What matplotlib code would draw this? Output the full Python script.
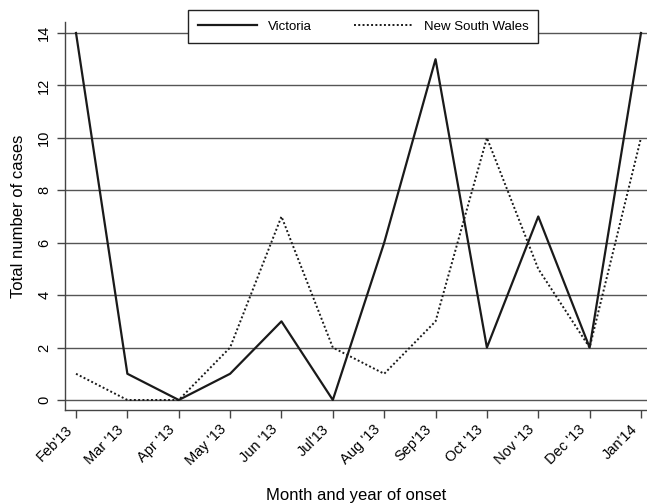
import matplotlib; matplotlib.use('Agg')
import matplotlib.pyplot as plt
import matplotlib.transforms as mtransforms

months = ["Feb'13", "Mar '13", "Apr '13", "May '13", "Jun '13", "Jul'13",
          "Aug '13", "Sep'13", "Oct '13", "Nov '13", "Dec '13", "Jan'14"]
victoria = [14, 1, 0, 1, 3, 0, 6, 13, 2, 7, 2, 14]
nsw = [1, 0, 0, 2, 7, 2, 1, 3, 10, 5, 2, 10]
yticks = [0, 2, 4, 6, 8, 10, 12, 14]

plt.rcParams['font.family'] = ['Liberation Sans', 'DejaVu Sans']

fig = plt.figure(figsize=(6.47, 5.03), dpi=100)
ax = fig.add_axes([0.1005, 0.185, 0.8995, 0.7713])

x = list(range(len(months)))
for y in yticks:
    ax.axhline(y, color='#555555', lw=1.0, zorder=1)

ax.plot(x, victoria, color='#1a1a1a', lw=1.6, ls='-', label='Victoria', zorder=3)
ax.plot(x, nsw, color='#1a1a1a', lw=1.4, ls=(0, (1, 1.2)), label='New South Wales', zorder=3)

ax.set_xlim(-0.214, 11.117)
ax.set_ylim(-0.38, 14.42)

ax.set_xticks(x)
ax.set_xticklabels(months, rotation=45, ha='right', rotation_mode='anchor', fontsize=10.5)
ax.set_yticks(yticks)
ax.set_yticklabels([str(v) for v in yticks], rotation=90, va='center', fontsize=10.5)
ax.tick_params(axis='both', length=6, width=1, color='#444444', pad=4)
ax.tick_params(axis='x', pad=3)

# nudge rotated labels left so they end just before the tick, as in the original
shift = mtransforms.ScaledTranslation(-11 / 100, 0, fig.dpi_scale_trans)
for lab in ax.get_xticklabels():
    lab.set_transform(lab.get_transform() + shift)

for s in ['top', 'right']:
    ax.spines[s].set_visible(False)
for s in ['left', 'bottom']:
    ax.spines[s].set_color('#444444')
    ax.spines[s].set_linewidth(1.0)

ax.set_xlabel('Month and year of onset', fontsize=12, labelpad=14)
ax.set_ylabel('Total number of cases', fontsize=12, labelpad=8)

leg = fig.legend(loc='center', bbox_to_anchor=(363 / 647, 1 - 26.5 / 503), ncol=2,
                 fontsize=9.5, frameon=True, fancybox=False, edgecolor='#222222',
                 handlelength=4.5, columnspacing=3.2, borderpad=0.75)
leg.get_frame().set_linewidth(1.0)
leg.get_frame().set_alpha(1)

fig.savefig('out.png', dpi=100, facecolor='white')
